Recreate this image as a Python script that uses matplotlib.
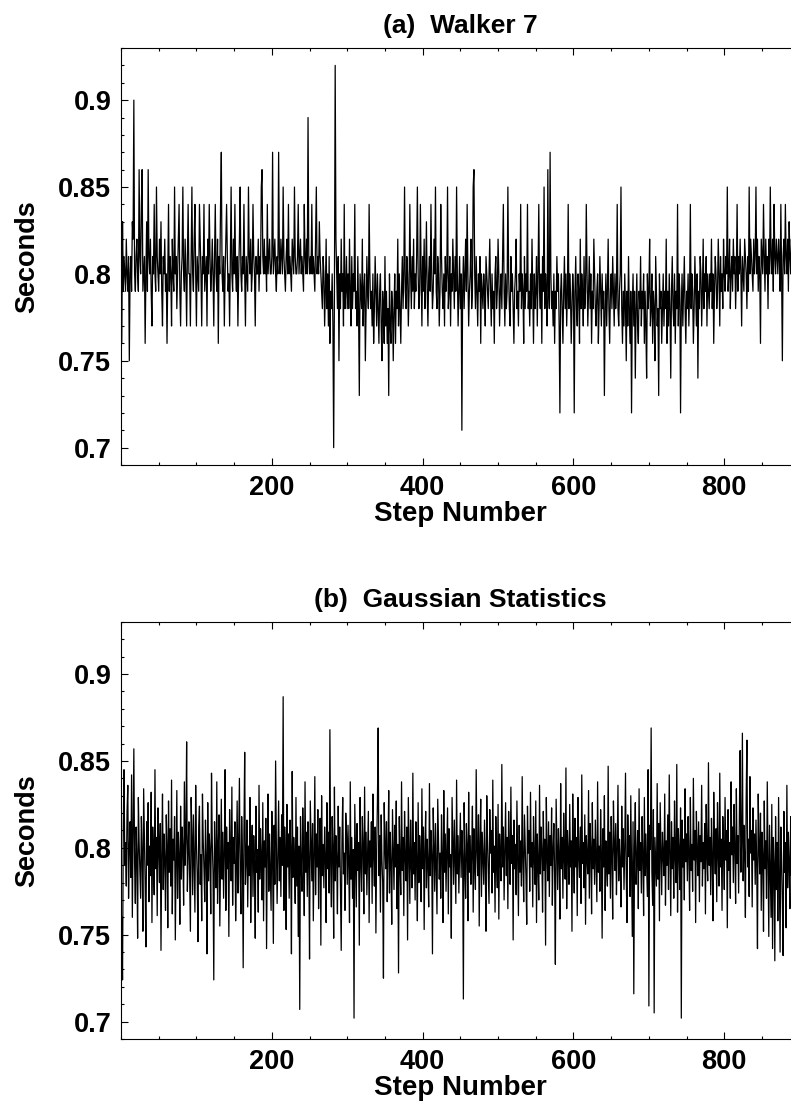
import numpy as np
import matplotlib.pyplot as plt
from matplotlib.ticker import MultipleLocator

# stride intervals for the walker, in hundredths of a second
walker_hundredths = """
76 83 79 81 80 79 82 80 79 81 75 80 81 79 83 82 90 80 79 81 82 80 79 86 81 80 84 86 79 80
81 76 80 83 79 86 81 80 82 79 77 81 80 84 80 79 85 81 80 79 82 80 83 79 77 81 80 82 79 80
76 80 84 79 81 80 77 82 80 79 85 80 81 78 80 82 84 79 77 80 81 85 80 79 82 80 77 81 84 80
80 77 81 85 80 79 82 84 80 77 81 80 79 84 82 80 77 81 80 84 79 80 81 77 82 80 84 81 79 80
82 80 77 81 84 80 79 82 76 81 80 84 87 80 79 81 77 80 82 84 81 79 80 77 81 85 80 79 82 80
84 80 79 81 77 80 82 85 80 79 81 80 84 80 77 81 80 79 85 81 80 82 79 80 84 81 80 77 81 80
80 82 79 81 80 85 86 81 80 82 80 81 79 84 80 81 82 80 80 81 87 80 81 82 80 79 81 80 87 81
80 82 81 80 85 81 80 79 81 82 80 84 80 81 80 79 82 81 80 85 81 80 80 81 84 80 81 82 80 81
80 79 84 81 80 82 80 89 81 80 81 80 84 80 81 80 79 82 85 80 81 80 83 81 80 79 78 81 80 77
79 82 78 80 77 81 76 79 78 80 77 70 79 92 82 80 78 81 75 80 78 82 79 80 77 84 78 79 81 78
80 78 82 79 77 81 78 80 79 84 78 79 77 81 78 73 80 79 78 82 77 79 80 75 78 81 79 78 84 80
78 79 77 80 76 78 81 79 77 80 78 76 79 80 77 75 79 78 76 81 77 79 76 78 73 80 77 76 79 78
75 78 80 76 79 78 82 77 80 78 76 79 81 78 80 85 79 78 81 80 77 79 84 80 78 81 79 82 78 80
79 81 85 80 78 79 84 80 77 81 79 82 78 80 83 79 77 80 81 79 84 80 78 79 82 80 85 79 78 81
80 77 79 84 81 79 78 80 77 81 79 80 85 78 79 81 77 80 79 82 80 78 81 79 85 80 77 79 81 78
80 71 79 81 78 80 82 79 84 80 77 79 80 82 78 79 85 86 80 78 81 79 77 80 79 81 76 80 79 78
80 79 77 81 80 79 78 80 82 79 77 80 78 79 76 80 81 78 79 82 80 77 79 80 78 81 84 79 77 80
78 79 85 80 78 77 81 79 80 78 76 79 80 82 78 79 77 80 79 84 78 80 79 76 81 78 80 79 84 78
79 77 80 78 82 79 76 80 78 79 81 77 80 84 79 78 80 76 81 79 85 78 80 79 77 86 79 78 87 80
78 79 77 80 76 79 78 81 79 80 77 72 79 80 78 76 79 81 78 80 77 79 84 78 80 79 76 78 80 79
72 79 81 78 77 80 79 76 82 78 80 79 77 81 78 79 84 80 77 79 81 78 80 76 79 78 82 80 78 77
79 80 76 78 81 79 77 80 78 79 73 78 80 77 79 82 78 76 79 80 78 81 79 77 80 78 79 84 78 77
79 80 85 78 76 79 77 80 78 75 79 77 81 78 76 79 72 78 80 77 79 74 78 80 77 76 79 78 81 77
79 78 80 76 79 77 74 80 78 79 82 77 78 80 76 79 78 75 81 79 77 78 73 80 78 79 76 78 80 77
79 78 82 76 79 77 80 78 74 79 81 78 77 80 76 79 78 84 77 80 79 72 78 80 77 79 81 78 76 79
78 80 77 79 84 78 80 79 76 78 81 79 77 80 74 79 78 81 80 77 79 82 78 80 79 81 77 80 79 78
80 79 82 78 80 76 79 81 80 78 79 82 80 77 81 79 80 78 82 80 79 81 80 85 79 80 82 78 80 81
79 82 80 81 78 80 84 79 81 80 82 80 77 81 80 79 82 81 80 78 81 79 85 80 82 81 80 79 82 80
81 85 80 82 79 81 80 76 82 81 80 84 81 79 82 80 81 78 82 80 85 81 80 82 79 84 81 80 82 81
80 82 81 79 84 80 75 81 82 80 84 81 80 82 79 83 81 80 82 81 80 79 83 81 80 82 81 80 79 82
"""

# gaussian comparison series, in thousandths of a second
gauss_thousandths = """
760 724 812 845 790 803 778 821 836 771 799 815 783 842 760 807 857 791 768 812 795 748 829 803 786 771 818 797 752 834
808 779 743 815 790 826 769 801 784 832 757 812 796 773 845 788 806 761 823 799 780 814 741 797 831 776 808 793 764 819
801 754 827 786 811 778 839 762 805 793 818 747 788 833 771 809 796 756 824 782 812 799 767 838 790 806 861 775 798 815
784 752 829 807 773 819 791 763 836 802 785 746 812 824 779 796 758 831 804 788 769 816 795 739 826 781 808 797 762 843
803 786 724 815 792 777 838 768 801 819 755 794 828 782 809 771 797 845 764 812 788 803 749 822 796 781 835 767 806 791
815 758 789 827 774 803 840 785 762 818 796 731 809 855 779 792 816 766 801 784 829 757 798 813 772 807 791 748 824 786
799 763 836 782 811 795 770 826 758 804 789 817 742 798 831 775 808 786 764 821 793 745 813 779 850 802 768 795 827 781
806 772 819 790 887 764 812 797 753 825 789 808 771 816 799 739 844 783 806 795 768 829 778 812 749 801 707 818 790 775
823 797 761 838 786 809 772 815 794 736 827 803 781 814 758 796 841 773 808 789 822 765 799 817 744 830 784 802 777 812
795 757 826 788 809 774 868 791 766 818 800 748 835 781 807 793 762 824 789 812 776 741 803 829 785 797 764 820 808 779
813 790 757 838 782 806 771 799 702 825 796 766 814 787 803 744 829 792 775 818 801 762 835 785 809 773 796 821 757 804
789 815 768 831 795 778 812 751 799 826 869 784 807 763 819 793 780 725 826 802 788 815 769 797 833 774 809 791 756 822
798 776 813 789 827 765 802 728 818 791 773 838 787 806 761 821 795 781 812 747 829 799 768 816 790 777 843 785 803 770
815 792 758 826 780 807 795 769 834 788 812 753 799 821 777 805 790 766 837 784 810 796 739 823 801 775 814 789 762 828
806 782 797 771 819 794 757 833 786 808 775 800 823 762 811 789 796 748 829 803 779 816 792 768 839 785 807 774 798 820
783 810 795 713 826 789 771 814 801 758 832 786 807 779 797 824 763 811 790 776 845 798 784 819 755 803 828 772 809 794
779 816 791 752 830 804 785 768 822 797 810 774 839 786 801 763 818 792 777 825 759 808 793 781 848 789 812 770 799 826
784 806 765 821 798 779 835 791 807 747 816 788 802 773 827 795 761 813 786 804 778 841 792 769 819 800 783 756 824 797
810 775 832 789 803 766 818 794 779 827 757 808 791 770 836 785 812 798 763 821 787 805 744 829 796 781 815 772 807 790
823 767 799 814 785 733 828 803 776 811 795 759 837 788 806 771 820 793 782 846 765 810 798 779 825 789 804 752 831 796
774 817 789 806 761 829 795 783 812 768 842 791 803 777 819 756 807 794 785 833 771 814 799 762 826 788 805 779 816 793
769 838 786 801 775 822 797 748 811 789 830 764 804 792 778 847 785 809 771 818 796 759 827 803 787 814 773 799 836 781
805 792 766 824 789 811 776 800 843 783 757 819 795 807 772 830 788 749 815 716 801 826 779 793 810 765 834 787 803 774
818 795 761 829 784 808 790 772 845 709 813 799 869 786 767 822 705 806 791 778 837 782 814 758 826 800 773 809 795 784
831 767 804 790 819 776 842 797 761 815 788 806 771 827 794 780 848 763 811 799 776 823 702 816 789 805 770 834 792 808
781 818 796 764 829 787 802 775 840 793 810 757 821 798 784 815 769 807 792 836 778 803 788 814 762 825 797 781 849 790
806 773 817 794 758 832 800 785 811 769 826 796 778 843 789 805 764 818 801 776 829 793 810 754 822 787 803 771 838 796
812 780 825 799 768 834 791 807 774 819 856 786 802 866 781 813 795 760 828 862 789 805 772 841 797 810 766 823 793 808
779 816 790 742 831 801 785 820 764 809 795 752 827 788 804 771 838 796 749 813 787 760 825 742 806 791 735 818 776 803
758 829 781 740 812 795 769 738 821 786 803 754 836 777 809 792 765 818 784 800
"""

walker = np.array(walker_hundredths.split(), dtype=float) / 100
gauss = np.array(gauss_thousandths.split(), dtype=float) / 1000

panels = [("(a)  Walker 7", walker), ("(b)  Gaussian Statistics", gauss)]

plt.rcParams['font.family'] = ['Liberation Sans', 'DejaVu Sans']
plt.rcParams['font.weight'] = 'bold'

fig = plt.figure(figsize=(7.91, 11.04), dpi=100)
bottoms = [0.5788, 0.0589]

for (title, y), b in zip(panels, bottoms):
    ax = fig.add_axes([0.153, b, 0.858, 0.3777])
    x = np.arange(1, len(y) + 1)
    ax.plot(x, y, color='black', lw=0.9)
    ax.set_xlim(0, 900)
    ax.set_ylim(0.69, 0.93)
    ax.set_xticks([200, 400, 600, 800])
    ax.xaxis.set_minor_locator(MultipleLocator(50))
    ax.set_yticks([0.7, 0.75, 0.8, 0.85, 0.9])
    ax.set_yticklabels(['0.7', '0.75', '0.8', '0.85', '0.9'])
    ax.yaxis.set_minor_locator(MultipleLocator(0.01))
    ax.tick_params(which='both', direction='in', top=True, right=False, width=0.8)
    ax.tick_params(which='major', length=5, labelsize=19.5, pad=7)
    ax.tick_params(which='minor', length=2.5)
    for lab in ax.get_xticklabels() + ax.get_yticklabels():
        lab.set_fontweight('bold')
    ax.set_xlabel('Step Number', fontsize=20, fontweight='bold', labelpad=0)
    ax.set_ylabel('Seconds', fontsize=19.5, fontweight='bold', labelpad=13)
    ax.set_title(title, fontsize=19, fontweight='bold', pad=11)
    ax.spines['right'].set_visible(False)
    for s in ['left', 'bottom', 'top']:
        ax.spines[s].set_linewidth(0.8)

fig.savefig('out.png', dpi=100)
